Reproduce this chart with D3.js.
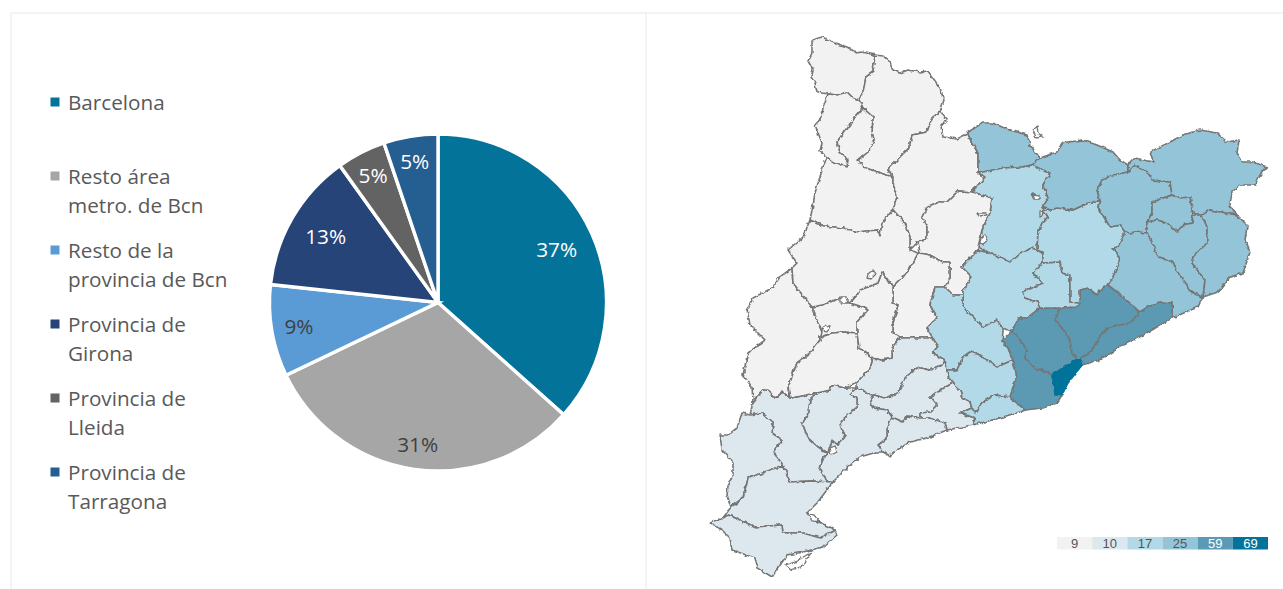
<!DOCTYPE html>
<html>
<head>
<meta charset="utf-8">
<script src="https://cdn.jsdelivr.net/npm/d3@7"></script>
<style>
  html, body { margin: 0; padding: 0; background: #fff; overflow: hidden; }
  text { font-family: "Open Sans", sans-serif; }
</style>
</head>
<body>
<div id="chart"></div>
<script>
// pie data
var pieNames = [["Barcelona"], ["Resto área", "metro. de Bcn"], ["Resto de la", "provincia de Bcn"],
                ["Provincia de", "Girona"], ["Provincia de", "Lleida"], ["Provincia de", "Tarragona"]];
var pieValues = [36.6, 31.3, 8.8, 13.4, 4.7, 5.2];
var pieColors = ["#04739a", "#a6a6a6", "#5b9bd5", "#264478", "#636363", "#255e91"];

// map legend
var binValues = [9, 10, 17, 25, 59, 69];
var binColors = ["#f2f2f2", "#dde8ee", "#b2d9e8", "#93c4d7", "#5b9ab4", "#04739b"];

// comarques, outlines (x,y in map units)
var mapNames = ["Val d'Aran", "Pallars Sobirà", "Alta Ribagorça", "Pallars Jussà", "Alt Urgell", "Cerdanya",
  "Berguedà", "Solsonès", "Segarra", "Conca de Barberà", "Alt Camp", "Baix Penedès", "Tarragonès", "Baix Camp",
  "Priorat", "Ribera d'Ebre", "Terra Alta", "Baix Ebre", "Montsià", "Segrià", "Pla d'Urgell", "Garrigues",
  "Urgell", "Noguera", "Bages", "Anoia", "Alt Penedès", "Garraf", "Baix Llobregat", "Vallès Occidental",
  "Vallès Oriental", "Moianès", "Osona", "Ripollès", "Garrotxa", "Alt Empordà", "Pla de l'Estany", "Gironès",
  "Baix Empordà", "Selva", "Maresme", "Barcelonès"];
var mapValues = [9, 9, 9, 9, 9, 25, 17, 9, 9, 10, 10, 10, 10, 10, 10, 10, 10, 10, 10, 9, 9, 9, 9, 9, 17, 17, 17, 17,
  59, 59, 59, 17, 17, 25, 25, 25, 25, 25, 25, 25, 59, 69];
var mapShapes = [
  "812,40 822,37 835,43 847,47 857,53 862,52 875,55 873,72 866,77 863,92 859,100 852,97 847,92 837,95 828,94 817,92 815,83 811,77 813,70 808,61 812,53",
  "875,55 883,56 890,62 893,70 900,73 908,70 920,72 928,71 933,78 940,88 944,100 940,112 932,118 927,132 912,135 909,148 897,160 888,169 893,177 880,173 863,167 858,160 868,152 874,140 872,132 873,117 863,108 859,100 863,92 866,77 873,72",
  "828,94 837,95 847,92 852,97 859,100 863,108 857,115 847,128 837,142 840,152 848,160 847,167 833,162 827,157 820,151 822,143 815,125 822,117 823,107",
  "863,108 873,117 872,132 874,140 868,152 858,160 863,167 880,173 893,177 893,183 897,197 893,210 882,223 880,236 878,230 857,232 843,228 823,226 810,220 813,205 815,193 823,167 827,157 833,162 847,167 848,160 840,152 837,142 847,128 857,115",
  "940,112 947,120 941,126 943,137 957,139 967,134 978,153 978,173 985,177 972,192 958,191 947,202 938,202 927,207 922,217 927,225 927,239 918,242 910,250 910,237 905,223 893,210 897,197 893,183 893,177 888,169 897,160 909,148 912,135 927,132 932,118",
  "967,133 982,123 992,123 1010,130 1027,135 1030,145 1040,158 1032,165 1022,167 1003,168 978,173 978,153",
  "978,173 1003,168 1022,167 1032,165 1050,173 1043,185 1048,198 1042,207 1048,217 1042,223 1038,233 1037,250 1032,248 1020,253 1010,262 1000,257 990,253 978,247 983,227 990,213 992,198 972,192 985,177",
  "972,192 992,198 990,213 983,227 978,247 978,250 962,267 972,277 963,290 963,295 953,295 945,287 950,277 950,262 942,262 930,255 920,253 918,242 927,239 927,225 922,217 927,207 938,202 947,202 958,191",
  "893,287 903,277 913,263 918,253 920,253 930,255 942,262 950,262 950,277 945,287 935,287 930,305 937,318 927,328 933,338 930,338 900,338 893,332 893,323 898,305 893,303",
  "900,338 930,338 933,338 938,347 932,352 945,360 942,365 930,370 920,368 917,367 905,378 898,393 885,398 870,394 857,388 857,382 870,368 873,358 882,360 892,358 892,347",
  "870,394 885,398 898,393 905,378 917,367 920,368 930,370 942,365 945,360 947,370 949,378 953,383 937,392 930,397 937,405 930,412 920,413 920,418 907,416 903,422 892,417 887,410 873,408 870,403 873,397",
  "937,392 953,383 958,387 963,398 970,402 972,408 960,413 975,418 973,425 947,430 945,423 930,418 920,418 920,413 930,412 937,405 930,397",
  "892,417 903,422 907,416 920,418 930,418 945,423 947,430 927,438 910,442 897,450 890,456 883,452 878,445 887,438 887,428",
  "850,395 857,388 870,394 873,397 870,403 873,408 887,410 892,417 887,428 887,438 878,445 883,452 877,452 860,457 847,468 833,482 828,482 820,470 822,460 828,453 832,440 838,445 845,435 840,425 847,415 857,407 857,398",
  "817,393 830,390 833,385 845,388 857,388 850,395 857,398 857,407 847,415 840,425 845,435 838,445 832,440 828,453 818,447 808,438 802,423 807,417 810,400",
  "753,402 763,390 768,390 775,398 783,392 790,398 817,393 810,400 807,417 802,423 808,438 818,447 828,453 822,460 820,470 828,482 810,481 790,482 783,465 773,452 782,440 772,433 773,422 762,413 750,415",
  "750,415 742,413 737,428 728,435 720,435 722,450 733,462 733,473 728,487 727,495 731,507 743,498 748,478 763,473 783,465 773,452 782,440 772,433 773,422 762,413",
  "731,507 743,498 748,478 763,473 783,465 790,482 810,481 833,482 817,503 807,513 815,520 835,530 820,538 803,533 783,533 782,525 755,527 740,520 728,515 723,518",
  "710,523 723,518 728,515 740,520 755,527 782,525 783,533 803,533 820,538 835,530 837,535 823,547 803,552 787,555 772,577 758,568 755,558 732,550 730,538 722,530",
  "792,268 793,283 805,298 812,307 822,305 817,320 822,332 820,340 810,353 797,363 788,387 790,398 783,392 775,398 768,390 763,390 753,402 752,387 743,375 748,353 765,340 750,325 747,310 753,298 772,288 780,277",
  "812,307 822,305 840,298 850,303 863,307 868,310 857,322 857,333 843,332 833,333 820,337 820,340 822,332 817,320",
  "820,340 820,337 833,333 843,332 857,333 859,348 873,358 870,368 857,382 845,388 833,385 830,390 817,393 790,398 788,387 797,363 810,353",
  "857,295 860,290 878,283 882,272 888,280 893,287 893,303 898,305 893,323 893,332 900,338 892,347 892,358 882,360 873,358 859,348 857,333 857,322 868,310 863,307 850,303",
  "810,220 823,226 843,228 857,232 878,230 880,236 882,223 893,210 905,223 910,237 910,250 918,253 913,263 903,277 893,287 888,280 882,272 878,283 860,290 857,295 850,303 840,298 822,305 812,307 805,298 793,283 792,268 797,263 788,250 803,237 806,230",
  "978,250 990,253 1000,257 1010,262 1020,253 1032,248 1037,250 1042,252 1042,263 1033,273 1043,283 1022,292 1025,298 1037,302 1040,308 1037,310 1027,318 1018,318 1012,332 1003,328 997,320 983,327 973,317 963,307 963,295 963,290 972,277 962,267",
  "935,287 945,287 953,295 963,295 963,307 973,317 983,327 997,320 1003,328 1003,332 1002,340 1008,348 1013,360 997,367 990,362 980,355 970,352 963,357 957,370 947,370 945,360 932,352 938,347 933,338 927,328 937,318 930,305",
  "947,370 957,370 963,357 970,352 980,355 990,362 997,367 1013,360 1017,377 1010,397 995,395 983,402 975,413 972,408 970,402 963,398 958,387 953,383 949,378",
  "1025,410 1010,397 995,395 983,402 975,413 972,408 960,413 975,418 973,425 1000,418",
  "1002,340 1013,330 1017,335 1027,350 1025,358 1035,368 1047,372 1052,375 1053,380 1055,395 1062,395 1057,403 1043,408 1025,410 1010,397 1017,377 1013,360 1008,348",
  "1012,332 1018,318 1027,318 1037,310 1040,308 1060,308 1055,318 1063,330 1070,340 1072,352 1077,359 1063,368 1052,375 1047,372 1035,368 1025,358 1027,350 1017,335",
  "1060,308 1078,307 1080,303 1080,290 1088,288 1097,295 1102,287 1108,285 1117,292 1130,303 1140,312 1130,323 1110,327 1102,333 1092,350 1080,360 1077,359 1072,352 1070,340 1063,330 1055,318",
  "1042,263 1060,262 1062,273 1070,275 1070,302 1080,303 1078,307 1060,308 1040,308 1037,302 1025,298 1022,292 1043,283 1033,273",
  "1042,207 1050,210 1057,208 1073,210 1088,203 1100,200 1098,207 1110,227 1120,225 1125,232 1118,247 1113,248 1120,260 1113,277 1108,285 1102,287 1097,295 1088,288 1080,290 1080,303 1070,302 1070,275 1062,273 1060,262 1042,263 1042,252 1037,250 1038,233 1042,223 1048,217",
  "1032,165 1040,158 1057,152 1062,143 1082,140 1097,145 1113,152 1120,160 1128,165 1128,172 1113,175 1102,180 1097,190 1100,200 1088,203 1073,210 1057,208 1050,210 1042,207 1048,198 1043,185 1050,173",
  "1128,172 1135,165 1148,173 1153,180 1170,182 1172,195 1152,202 1152,213 1147,222 1147,233 1137,232 1130,233 1125,232 1120,225 1110,227 1098,207 1100,200 1097,190 1102,180 1113,175",
  "1128,165 1135,158 1153,162 1150,152 1168,143 1183,135 1200,130 1217,133 1227,142 1239,140 1237,153 1243,162 1253,162 1267,167 1260,175 1255,185 1240,185 1232,192 1230,205 1237,215 1225,213 1210,210 1202,215 1193,215 1190,197 1180,198 1172,195 1170,182 1153,180 1148,173 1135,165 1128,172",
  "1172,195 1180,198 1190,197 1193,215 1192,223 1183,225 1177,232 1167,223 1157,220 1147,222 1152,213 1152,202",
  "1147,222 1157,220 1167,223 1177,232 1183,225 1192,223 1193,215 1202,215 1207,227 1207,243 1193,257 1192,263 1205,280 1203,297 1190,292 1187,285 1178,273 1173,262 1158,257 1152,243 1147,233",
  "1202,215 1210,210 1225,213 1237,215 1247,225 1245,240 1250,252 1243,273 1230,277 1218,292 1203,297 1205,280 1192,263 1193,257 1207,243 1207,227",
  "1125,232 1130,233 1137,232 1147,233 1152,243 1158,257 1173,262 1178,273 1187,285 1190,292 1203,297 1198,307 1172,318 1172,303 1162,302 1148,307 1140,312 1130,303 1117,292 1108,285 1113,277 1120,260 1113,248 1118,247",
  "1080,360 1092,350 1102,333 1110,327 1130,323 1140,312 1148,307 1160,302 1172,303 1172,318 1147,333 1120,347 1100,360 1082,365",
  "1077,359 1080,360 1082,365 1068,383 1062,395 1055,395 1053,380 1052,375 1063,368"
];
// small holes and exclaves in the outline
var mapSpecks = [
  "1032,129 1037,126 1038,133 1042,136 1036,137",
  "1032,194 1039,195 1039,199 1034,199",
  "1040,211 1043,210 1042,215 1040,216",
  "978,213 986,213 987,215 979,216",
  "981,238 985,235 988,240 983,244 980,243",
  "868,274 873,270 876,274 871,279 867,278",
  "840,297 846,297 848,303 840,303",
  "822,330 826,325 830,327 826,332",
  "829,448 835,446 837,452 831,455",
  "807,513 814,515 820,522 812,521",
  "785,565 795,562 810,553 803,566 791,570"
];

function parseShape(s) {
  var pts = s.split(" ").map(function(p) { return p.split(",").map(Number); });
  pts.push(pts[0]);
  return {type: "Polygon", coordinates: [pts]};
}

var width = 1283, height = 589;

var svg = d3.select("#chart").append("svg")
    .attr("width", width)
    .attr("height", height);

// the source map has a rough, scanned looking edge
var rough = svg.append("defs").append("filter")
    .attr("id", "rough")
    .attr("filterUnits", "userSpaceOnUse")
    .attr("x", 690).attr("y", 20).attr("width", 593).attr("height", 569);
rough.append("feTurbulence")
    .attr("type", "fractalNoise")
    .attr("baseFrequency", 0.2)
    .attr("numOctaves", 2)
    .attr("seed", 4)
    .attr("result", "noise");
rough.append("feDisplacementMap")
    .attr("in", "SourceGraphic")
    .attr("in2", "noise")
    .attr("scale", 4)
    .attr("xChannelSelector", "R")
    .attr("yChannelSelector", "G");
rough.append("feGaussianBlur")
    .attr("stdDeviation", 0.4);

// panel frame
var frame = [[11, 13, 11, 589], [11, 13, 1283, 13], [646, 13, 646, 589]];
svg.append("g").selectAll("line").data(frame).enter().append("line")
    .attr("x1", function(d) { return d[0]; })
    .attr("y1", function(d) { return d[1]; })
    .attr("x2", function(d) { return d[2]; })
    .attr("y2", function(d) { return d[3]; })
    .style("stroke", "#efefef")
    .style("stroke-width", 1.3);

// ---- pie
var cx = 438, cy = 302.5, radius = 168.5;
var labelRadius = [130, 144, 141, 130, 142, 143];
var labelDark = [false, true, true, false, false, false];

var pie = d3.pie().sort(null)(pieValues);
var arc = d3.arc().innerRadius(0).outerRadius(radius);

var gPie = svg.append("g").attr("transform", "translate(" + cx + "," + cy + ")");
gPie.selectAll("path").data(pie).enter().append("path")
    .attr("d", arc)
    .style("fill", function(d, i) { return pieColors[i]; })
    .style("stroke", "white")
    .style("stroke-width", 3.4);

gPie.selectAll("text").data(pie).enter().append("text")
    .attr("transform", function(d, i) {
      var r = labelRadius[i];
      return "translate(" + d3.arc().innerRadius(r).outerRadius(r).centroid(d) + ")";
    })
    .attr("text-anchor", "middle")
    .attr("dy", "0.35em")
    .style("font-size", "20.8px")
    .style("fill", function(d, i) { return labelDark[i] ? "#404040" : "#ffffff"; })
    .text(function(d) { return d3.format(".0f")(d.value) + "%"; });

// legend
var legendY = d3.scalePoint().domain(d3.range(pieNames.length)).range([102.5, 472.5]);
var gLegend = svg.append("g");
pieNames.forEach(function(lines, i) {
  gLegend.append("rect")
      .attr("x", 50.5).attr("y", legendY(i) - 5)
      .attr("width", 9).attr("height", 9)
      .style("fill", pieColors[i]);
  lines.forEach(function(t, j) {
    gLegend.append("text")
        .attr("x", 68).attr("y", legendY(i) + j * 29)
        .attr("dy", "0.35em")
        .style("font-size", "20.7px")
        .style("fill", "#595959")
        .text(t);
  });
});

// ---- map
var features = mapShapes.map(function(s, i) {
  return {type: "Feature", properties: {name: mapNames[i], value: mapValues[i]}, geometry: parseShape(s)};
});
var specks = mapSpecks.map(function(s) {
  return {type: "Feature", geometry: parseShape(s)};
});

var projection = d3.geoIdentity()
    .fitExtent([[710, 37], [1267, 577]], {type: "FeatureCollection", features: features});
var path = d3.geoPath().projection(projection);

var color = d3.scaleOrdinal().domain(binValues).range(binColors);

var gMap = svg.append("g").attr("filter", "url(#rough)");

gMap.append("g").attr("class", "comarques")
  .selectAll("path").data(features).enter().append("path")
    .attr("d", path)
    .style("fill", function(d) { return color(d.properties.value); })
    .style("stroke", function(d) { return d.properties.value == 69 ? color(69) : "#757575"; })
    .style("stroke-width", 1.6)
    .style("stroke-linejoin", "round");

gMap.append("g").attr("class", "specks")
  .selectAll("path").data(specks).enter().append("path")
    .attr("d", path)
    .style("fill", "#ffffff")
    .style("stroke", "#757575")
    .style("stroke-width", 1.3);

// map legend bar
var binX = d3.scaleBand().domain(binValues).range([1057, 1268]);
var gBins = svg.append("g");
gBins.selectAll("rect").data(binValues).enter().append("rect")
    .attr("x", function(d) { return binX(d); })
    .attr("y", 537)
    .attr("width", binX.bandwidth())
    .attr("height", 12.5)
    .style("fill", function(d) { return color(d); });
gBins.selectAll("text").data(binValues).enter().append("text")
    .attr("x", function(d) { return binX(d) + binX.bandwidth() / 2; })
    .attr("y", 543.5)
    .attr("dy", "0.35em")
    .attr("text-anchor", "middle")
    .style("font-family", "'Liberation Sans', sans-serif")
    .style("font-size", "13px")
    .style("fill", function(d) { return d >= 59 ? "#ffffff" : "#555555"; })
    .text(function(d) { return d; });
</script>
</body>
</html>
